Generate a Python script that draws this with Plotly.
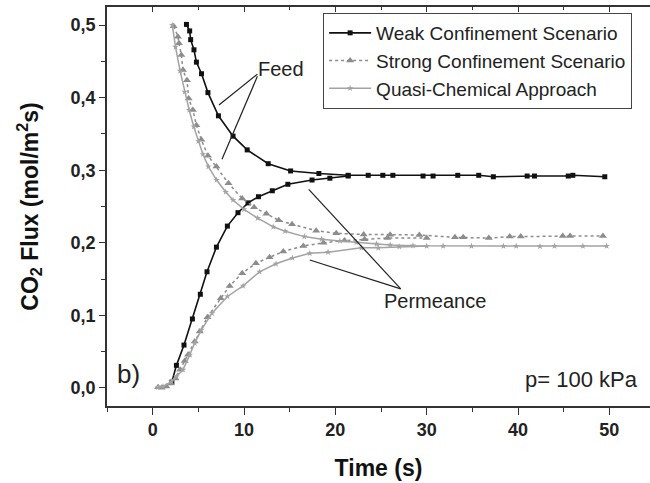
import plotly.graph_objects as go

# ---- data ----
weak_feed_t = [3.7, 4.05, 4.16, 4.52, 4.79, 5.35, 6.05, 7.2, 8.8, 10.35, 12.65, 15.1, 18.2, 21.4, 23.6, 25.2, 26.3, 29.6, 30.7, 33.4, 35.7, 37.3, 41.0, 41.8, 45.5, 46.0, 49.5]
weak_feed_y = [0.501, 0.492, 0.480, 0.466, 0.449, 0.433, 0.407, 0.375, 0.347, 0.328, 0.309, 0.299, 0.2955, 0.293, 0.293, 0.293, 0.293, 0.292, 0.292, 0.293, 0.293, 0.291, 0.292, 0.292, 0.292, 0.293, 0.291]
weak_perm_t = [2.1, 2.6, 3.43, 4.35, 5.22, 5.95, 6.98, 8.18, 9.34, 10.44, 11.58, 13.1, 14.8, 17.45, 19.4, 21.4]
weak_perm_y = [0.008, 0.031, 0.059, 0.095, 0.129, 0.160, 0.194, 0.223, 0.2415, 0.255, 0.2635, 0.2717, 0.2806, 0.2865, 0.289, 0.292]

strong_feed_t = [2.3, 2.77, 2.88, 3.14, 3.32, 3.76, 3.94, 4.4, 4.79, 5.33, 6.06, 6.98, 8.3, 9.8, 11.1, 12.45, 13.8, 15.26, 17.9, 20.1, 23.1, 26.0, 29.2, 33.1, 34.0, 36.8, 39.1, 40.3, 44.9, 45.7, 49.3]
strong_feed_y = [0.4986, 0.484, 0.475, 0.459, 0.438, 0.424, 0.399, 0.383, 0.362, 0.342, 0.320, 0.305, 0.282, 0.261, 0.249, 0.240, 0.231, 0.2255, 0.2167, 0.213, 0.2115, 0.2112, 0.2107, 0.2075, 0.2075, 0.2065, 0.2085, 0.2085, 0.2095, 0.2095, 0.2095]
strong_perm_t = [0.6, 1.0, 1.5, 2.0, 2.5, 3.0, 3.5, 3.87, 4.6, 5.15, 6.0, 7.45, 8.43, 9.8, 11.3, 12.8, 14.3, 16.5, 18.7, 21.0, 23.2, 25.7, 30.0]
strong_perm_y = [0.001, 0.000, 0.002, 0.006, 0.013, 0.025, 0.037, 0.0455, 0.0638, 0.0776, 0.0974, 0.1235, 0.1405, 0.158, 0.1717, 0.180, 0.188, 0.1956, 0.200, 0.203, 0.205, 0.2066, 0.2066]

quasi_feed_t = [2.15, 2.5, 3.0, 3.5, 4.0, 4.5, 5.0, 5.5, 6.1, 7.0, 8.0, 8.8, 10.0, 11.5, 13.2, 14.5, 16.6, 18.5, 20.5, 22.3, 24.5, 26.0, 28.5, 31.8, 34.9, 38.4, 39.8, 42.4, 44.0, 47.1, 49.7]
quasi_feed_y = [0.500, 0.470, 0.437, 0.408, 0.383, 0.360, 0.340, 0.322, 0.305, 0.2865, 0.270, 0.259, 0.246, 0.234, 0.222, 0.216, 0.2085, 0.205, 0.2025, 0.2005, 0.1985, 0.197, 0.196, 0.1955, 0.1955, 0.1955, 0.1955, 0.195, 0.1955, 0.1955, 0.1955]
quasi_perm_t = [0.58, 1.13, 2.05, 2.6, 3.32, 4.05, 4.6, 5.33, 6.5, 8.18, 9.9, 11.7, 13.5, 15.3, 17.2, 19.2, 22.86, 24.7, 27.0, 30.0]
quasi_perm_y = [0.001, 0.002, 0.0087, 0.0156, 0.025, 0.0455, 0.0615, 0.080, 0.103, 0.126, 0.1405, 0.160, 0.171, 0.179, 0.1855, 0.187, 0.193, 0.193, 0.1945, 0.1955]

x_ticks = [0, 10, 20, 30, 40, 50]
y_ticks = [0.0, 0.1, 0.2, 0.3, 0.4, 0.5]

# annotation pointer lines (data coords): (x0, y0, x1, y1)
feed_pointers = [(11.47, 0.4325, 7.26, 0.3898), (11.47, 0.4295, 7.59, 0.315)]
perm_pointers = [(27.16, 0.1364, 17.2, 0.1763), (27.16, 0.1364, 17.09, 0.2737)]

FONT = "Liberation Sans, Arial, sans-serif"
BLACK = "#111111"
GRAY_S = "#8c8c8c"
GRAY_Q = "#a3a3a3"

fig = go.Figure()

# Weak confinement
fig.add_trace(go.Scatter(x=weak_feed_t, y=weak_feed_y, mode="lines+markers",
                         name="Weak Confinement Scenario", legendgroup="w",
                         line=dict(color=BLACK, width=1.6),
                         marker=dict(symbol="square", size=5, color=BLACK)))
fig.add_trace(go.Scatter(x=weak_perm_t, y=weak_perm_y, mode="lines+markers",
                         name="Weak Confinement Scenario", legendgroup="w", showlegend=False,
                         line=dict(color=BLACK, width=1.6),
                         marker=dict(symbol="square", size=5, color=BLACK)))
# Strong confinement
fig.add_trace(go.Scatter(x=strong_feed_t, y=strong_feed_y, mode="lines+markers",
                         name="Strong Confinement Scenario", legendgroup="s",
                         line=dict(color=GRAY_S, width=1.5, dash="dot"),
                         marker=dict(symbol="triangle-up", size=7, color=GRAY_S)))
fig.add_trace(go.Scatter(x=strong_perm_t, y=strong_perm_y, mode="lines+markers",
                         name="Strong Confinement Scenario", legendgroup="s", showlegend=False,
                         line=dict(color=GRAY_S, width=1.5, dash="dot"),
                         marker=dict(symbol="triangle-up", size=7, color=GRAY_S)))
# Quasi-chemical
fig.add_trace(go.Scatter(x=quasi_feed_t, y=quasi_feed_y, mode="lines+markers",
                         name="Quasi-Chemical Approach", legendgroup="q",
                         line=dict(color=GRAY_Q, width=1.5),
                         marker=dict(symbol="star", size=5, color=GRAY_Q)))
fig.add_trace(go.Scatter(x=quasi_perm_t, y=quasi_perm_y, mode="lines+markers",
                         name="Quasi-Chemical Approach", legendgroup="q", showlegend=False,
                         line=dict(color=GRAY_Q, width=1.5),
                         marker=dict(symbol="star", size=5, color=GRAY_Q)))
# invisible trace for the top mirror axis
fig.add_trace(go.Scatter(x=[None], y=[None], xaxis="x2", showlegend=False, hoverinfo="skip"))

shapes = []
for (x0, y0, x1, y1) in feed_pointers + perm_pointers:
    shapes.append(dict(type="line", xref="x", yref="y", x0=x0, y0=y0, x1=x1, y1=y1,
                       line=dict(color="#222222", width=1.2)))

annotations = [
    dict(x=14.0, y=0.4394, xref="x", yref="y", text="Feed", showarrow=False,
         font=dict(family=FONT, size=20, color="#222")),
    dict(x=30.94, y=0.1198, xref="x", yref="y", text="Permeance", showarrow=False,
         font=dict(family=FONT, size=20, color="#222")),
    dict(x=-2.6, y=0.0193, xref="x", yref="y", text="b)", showarrow=False,
         font=dict(family=FONT, size=26, color="#222")),
    dict(x=46.9, y=0.0117, xref="x", yref="y", text="p= 100 kPa", showarrow=False,
         font=dict(family=FONT, size=22, color="#222")),
]

XR = [-5, 54.45]
fig.update_layout(
    width=650, height=483,
    margin=dict(l=107, r=0, t=7, b=77),
    plot_bgcolor="white", paper_bgcolor="white",
    separators=", ",
    font=dict(family=FONT, color="#222"),
    shapes=shapes, annotations=annotations,
    showlegend=True,
    legend=dict(x=0.398, y=0.985, xanchor="left", yanchor="top",
                bgcolor="white", bordercolor="#444", borderwidth=1,
                font=dict(family=FONT, size=19, color="#222"),
                itemwidth=42, tracegroupgap=0),
    xaxis=dict(range=XR, tickvals=x_ticks, ticks="outside", ticklen=7, tickwidth=1.3,
               tickcolor="#333", showline=True, linecolor="#333", linewidth=1.5,
               showgrid=False, zeroline=False,
               minor=dict(dtick=5, tick0=0, ticks="outside", ticklen=4, tickcolor="#333", showgrid=False),
               tickfont=dict(family=FONT, size=18, color="#222", weight="bold"),
               title=dict(text="Time (s)", font=dict(family=FONT, size=23, color="#111", weight="bold"),
                          standoff=21)),
    xaxis2=dict(range=XR, overlaying="x", side="top", anchor="y", tickvals=x_ticks,
                ticks="inside", ticklen=5, tickcolor="#333", showline=True, linecolor="#333",
                linewidth=1.5, showticklabels=False, showgrid=False, zeroline=False,
                minor=dict(dtick=5, tick0=0, ticks="inside", ticklen=3, tickcolor="#333", showgrid=False)),
    yaxis=dict(range=[-0.025, 0.525], tickvals=y_ticks, tickformat=".1f", ticks="outside",
               ticklen=6, tickwidth=1.3, tickcolor="#333", showline=True, linecolor="#333",
               linewidth=1.5, showgrid=False, zeroline=False, mirror=False,
               minor=dict(dtick=0.05, tick0=0, ticks="outside", ticklen=4, tickcolor="#333", showgrid=False),
               tickfont=dict(family=FONT, size=18, color="#222", weight="bold"),
               title=dict(text="CO<sub>2</sub> Flux (mol/m<sup>2</sup>s)",
                          font=dict(family=FONT, size=23, color="#111", weight="bold"),
                          standoff=26)),
)

fig.write_html("out.html")
